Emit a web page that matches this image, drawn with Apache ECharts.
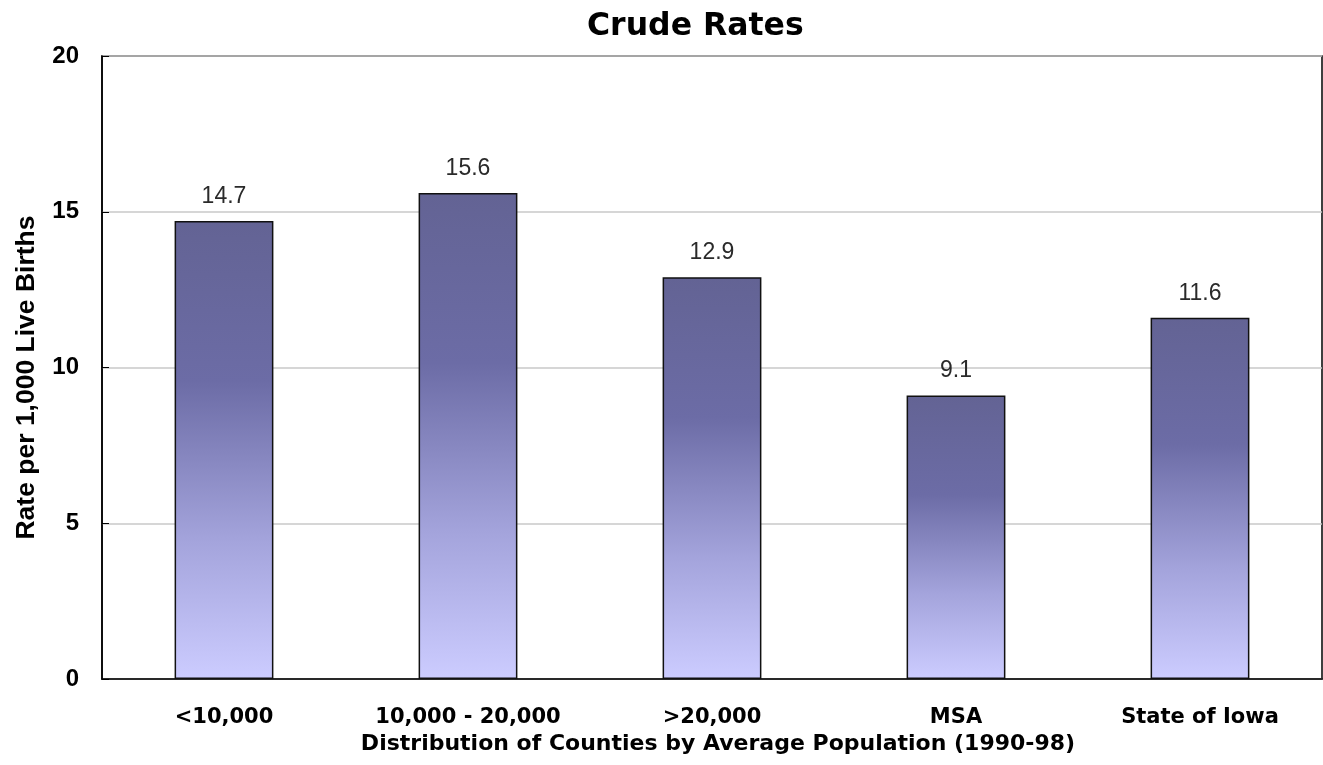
<!DOCTYPE html>
<html>
<head>
<meta charset="utf-8">
<script src="https://cdn.jsdelivr.net/npm/echarts@6/dist/echarts.min.js"></script>
<style>
html,body{margin:0;padding:0;background:#fff;}
#chart{width:1323px;height:765px;}
</style>
</head>
<body>
<div id="chart"></div>
<script>
const categories = ['<10,000', '10,000 - 20,000', '>20,000', 'MSA', 'State of Iowa'];
const rates = [14.7, 15.6, 12.9, 9.1, 11.6];
const yTicks = [0, 5, 10, 15, 20];

const chart = echarts.init(document.getElementById('chart'));
const arial = 'Arial, "Liberation Sans", Helvetica, sans-serif';
const wide = '"DejaVu Sans", Verdana, sans-serif';
chart.setOption({
  animation: false,
  backgroundColor: '#ffffff',
  title: {
    text: 'Crude Rates',
    left: 582,
    top: 6,
    textStyle: { fontFamily: wide, fontSize: 31.5, fontWeight: 'bold', color: '#000' }
  },
  grid: {
    left: 102, right: 1, top: 56, bottom: 86,
    show: true, borderColor: '#000', borderWidth: 1.5, backgroundColor: 'transparent'
  },
  xAxis: {
    type: 'category',
    data: categories,
    name: 'Distribution of Counties by Average Population (1990-98)',
    nameLocation: 'middle',
    nameGap: 45,
    nameTextStyle: { fontFamily: wide, fontSize: 22, fontWeight: 'bold', color: '#000', padding: [0, 0, 0, 12] },
    axisLine: { lineStyle: { color: '#000', width: 1.5 } },
    axisTick: { show: false },
    axisLabel: { fontFamily: wide, fontSize: 21, fontWeight: 'bold', color: '#000', margin: 28 }
  },
  yAxis: {
    type: 'value',
    min: yTicks[0],
    max: yTicks[yTicks.length - 1],
    interval: 5,
    name: 'Rate per 1,000 Live Births',
    nameLocation: 'middle',
    nameGap: 62,
    nameTextStyle: { fontFamily: arial, fontSize: 26.5, fontWeight: 'bold', color: '#000', padding: [0, 20, 0, 0] },
    axisLine: { show: true, lineStyle: { color: '#000', width: 1.5 } },
    axisTick: { show: true, inside: true, length: 7, lineStyle: { color: '#000' } },
    axisLabel: { fontFamily: arial, fontSize: 24, fontWeight: 'bold', color: '#000', margin: 23 },
    splitLine: { show: true, lineStyle: { color: '#c8c8c8', width: 1.5 } }
  },
  series: [{
    type: 'bar',
    data: rates,
    barWidth: '40.5%',
    itemStyle: {
      borderColor: '#111',
      borderWidth: 1.5,
      color: new echarts.graphic.LinearGradient(0, 0, 0, 1, [
        { offset: 0, color: '#636394' },
        { offset: 0.35, color: '#6c6ca6' },
        { offset: 0.7, color: '#a4a4dc' },
        { offset: 1, color: '#ccccff' }
      ])
    },
    label: {
      show: true,
      position: 'top',
      distance: 13,
      fontFamily: arial,
      fontSize: 23,
      color: '#2a2a2a',
      formatter: p => p.value.toFixed(1)
    }
  }]
});
</script>
</body>
</html>
